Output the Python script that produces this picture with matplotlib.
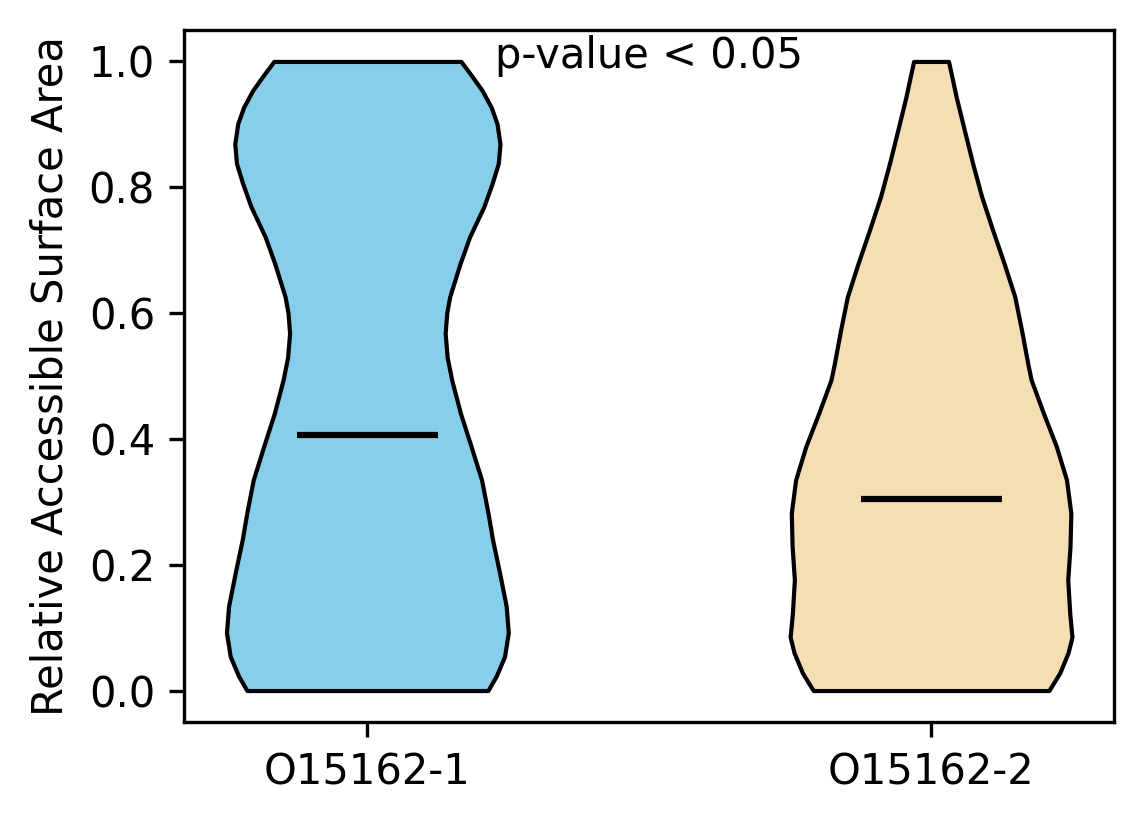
import numpy as np
import matplotlib
matplotlib.use("Agg")
import matplotlib.pyplot as plt

# protein isoforms
labels = ['O15162-1', 'O15162-2']
colors = ['skyblue', 'wheat']

# density profiles (relative width at each RSA level)
rsa_1 = [0.000, 0.023, 0.054, 0.092, 0.134, 0.187, 0.240, 0.282, 0.335, 0.388,
         0.441, 0.494, 0.530, 0.568, 0.600, 0.626, 0.679, 0.721, 0.769, 0.806,
         0.838, 0.869, 0.901, 0.927, 0.954, 0.980, 1.000]
dens_1 = [0.855, 0.914, 0.973, 1.000, 0.985, 0.938, 0.888, 0.856, 0.810, 0.736,
          0.660, 0.598, 0.566, 0.552, 0.563, 0.584, 0.658, 0.725, 0.826, 0.885,
          0.929, 0.941, 0.920, 0.879, 0.814, 0.731, 0.664]
median_1 = 0.406

rsa_2 = [0.000, 0.028, 0.060, 0.085, 0.123, 0.176, 0.229, 0.282, 0.335, 0.388,
         0.441, 0.494, 0.520, 0.573, 0.626, 0.679, 0.732, 0.785, 0.838, 0.890,
         0.943, 1.000]
dens_2 = [0.836, 0.913, 0.972, 1.000, 0.984, 0.970, 0.986, 0.992, 0.961, 0.889,
          0.797, 0.710, 0.686, 0.642, 0.594, 0.518, 0.437, 0.359, 0.295, 0.237,
          0.179, 0.124]
median_2 = 0.304

vpstats = []
for rsa, dens, med in [(rsa_1, dens_1, median_1), (rsa_2, dens_2, median_2)]:
    vpstats.append({'coords': np.array(rsa), 'vals': np.array(dens),
                    'mean': med, 'median': med, 'min': min(rsa), 'max': max(rsa)})

fig, ax = plt.subplots(figsize=(1144/300, 824/300), dpi=300)
fig.subplots_adjust(left=0.161, right=0.974, top=0.9636, bottom=0.1238)

parts = ax.violin(vpstats, positions=[1, 2], showmeans=False,
                  showextrema=False, showmedians=True)
for body, c in zip(parts['bodies'], colors):
    body.set_facecolor(c)
    body.set_edgecolor('black')
    body.set_alpha(1)
parts['cmedians'].set_color('black')

ax.set_xticks([1, 2])
ax.set_xticklabels(labels)
ax.set_ylabel('Relative Accessible Surface Area')
ax.text(1.5, 0.99, 'p-value < 0.05', ha='center', va='baseline')

fig.savefig('out.png', dpi=300)
